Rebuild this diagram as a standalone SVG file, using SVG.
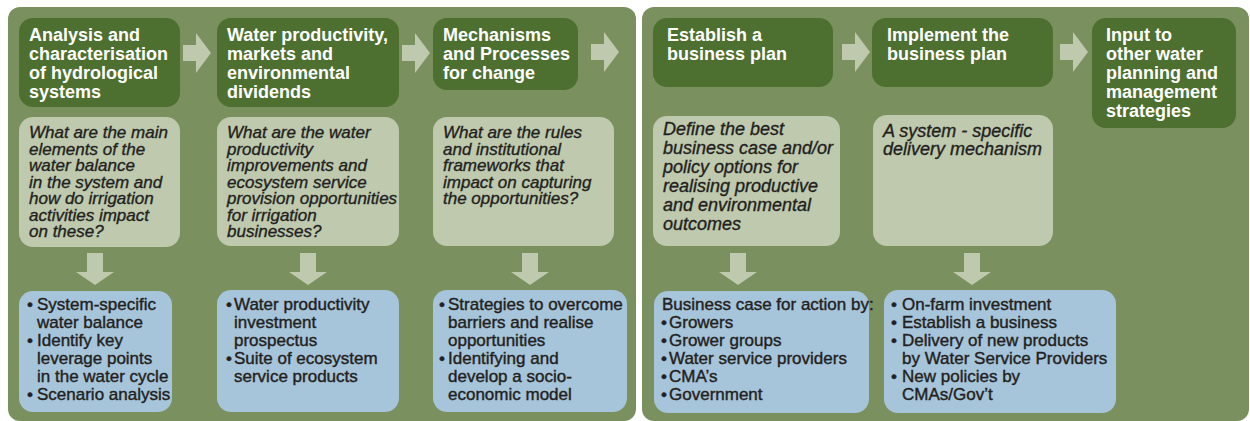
<svg xmlns="http://www.w3.org/2000/svg" xmlns:xlink="http://www.w3.org/1999/xlink" width="1250" height="421" viewBox="0 0 1250 421">
<style>
.panel{fill:#7a905e}
.hd{fill:#4d7030}
.qb{fill:#bec9ad}
.bl{fill:#a6c4da}
.arr{fill:#bec9ad}
text{font-family:"Liberation Sans",Arial,sans-serif}
.h{font-weight:bold;font-size:18px;fill:#ffffff}
.q{font-style:italic;font-size:17px;fill:#231f20;stroke:#231f20;stroke-width:0.35}
.q2{font-style:italic;font-size:18px;fill:#231f20;stroke:#231f20;stroke-width:0.35}
.b{font-size:17px;fill:#231f20;stroke:#231f20;stroke-width:0.4}
</style>
<defs>
<polygon id="ra" points="0,-8 13,-8 13,-20 28,0 13,20 13,8 0,8"/>
<polygon id="da" points="-8,0 8,0 8,19 19,19 0,32 -19,19 -8,19"/>
</defs>
<rect width="1250" height="421" fill="#ffffff"/>
<g id="panel-left"><rect class="panel" x="8" y="7" width="628" height="414" rx="12"/></g>
<g id="panel-right"><rect class="panel" x="642" y="7" width="607" height="414" rx="12"/></g>

<g id="connectors" class="arr">
<use xlink:href="#ra" href="#ra" x="183" y="53"/>
<use xlink:href="#ra" href="#ra" x="402" y="53"/>
<use xlink:href="#ra" href="#ra" x="591" y="52"/>
<use xlink:href="#ra" href="#ra" x="842" y="52"/>
<use xlink:href="#ra" href="#ra" x="1060" y="52"/>
<use xlink:href="#da" href="#da" x="95" y="253"/>
<use xlink:href="#da" href="#da" x="308" y="253"/>
<use xlink:href="#da" href="#da" x="530" y="253"/>
<use xlink:href="#da" href="#da" x="738" y="253"/>
<use xlink:href="#da" href="#da" x="972" y="253"/>
</g>

<g id="h1"><rect class="hd" x="19" y="18" width="161" height="89" rx="14"/>
<text class="h"><tspan x="29" y="41">Analysis and</tspan><tspan x="29" y="60">characterisation</tspan><tspan x="29" y="79">of hydrological</tspan><tspan x="29" y="98">systems</tspan></text></g>
<g id="h2"><rect class="hd" x="217" y="18" width="182" height="89" rx="14"/>
<text class="h"><tspan x="227" y="41">Water productivity,</tspan><tspan x="227" y="60">markets and</tspan><tspan x="227" y="79">environmental</tspan><tspan x="227" y="98">dividends</tspan></text></g>
<g id="h3"><rect class="hd" x="433" y="18" width="145" height="72" rx="14"/>
<text class="h"><tspan x="443" y="41">Mechanisms</tspan><tspan x="443" y="60">and Processes</tspan><tspan x="443" y="79">for change</tspan></text></g>
<g id="h4"><rect class="hd" x="653" y="18" width="180" height="69" rx="14"/>
<text class="h"><tspan x="667" y="41">Establish a</tspan><tspan x="667" y="60">business plan</tspan></text></g>
<g id="h5"><rect class="hd" x="872" y="18" width="181" height="69" rx="14"/>
<text class="h"><tspan x="887" y="41">Implement the</tspan><tspan x="887" y="60">business plan</tspan></text></g>
<g id="h6"><rect class="hd" x="1092" y="18" width="144" height="110" rx="14"/>
<text class="h"><tspan x="1106" y="41">Input to</tspan><tspan x="1106" y="60">other water</tspan><tspan x="1106" y="79">planning and</tspan><tspan x="1106" y="98">management</tspan><tspan x="1106" y="117">strategies</tspan></text></g>

<g id="q1"><rect class="qb" x="19" y="117" width="161" height="130" rx="14"/>
<text class="q"><tspan x="29" y="138">What are the main</tspan><tspan x="29" y="154.5">elements of the</tspan><tspan x="29" y="171">water balance</tspan><tspan x="29" y="187.5">in the system and</tspan><tspan x="29" y="204">how do irrigation</tspan><tspan x="29" y="220.5">activities impact</tspan><tspan x="29" y="237">on these?</tspan></text></g>
<g id="q2"><rect class="qb" x="217" y="117" width="182" height="129" rx="14"/>
<text class="q"><tspan x="227" y="138">What are the water</tspan><tspan x="227" y="154.5">productivity</tspan><tspan x="227" y="171">improvements and</tspan><tspan x="227" y="187.5">ecosystem service</tspan><tspan x="227" y="204">provision opportunities</tspan><tspan x="227" y="220.5">for irrigation</tspan><tspan x="227" y="237">businesses?</tspan></text></g>
<g id="q3"><rect class="qb" x="433" y="117" width="181" height="129" rx="14"/>
<text class="q"><tspan x="443" y="138">What are the rules</tspan><tspan x="443" y="154.5">and institutional</tspan><tspan x="443" y="171">frameworks that</tspan><tspan x="443" y="187.5">impact on capturing</tspan><tspan x="443" y="204">the opportunities?</tspan></text></g>
<g id="q4"><rect class="qb" x="653" y="116" width="187" height="130" rx="14"/>
<text class="q2"><tspan x="663" y="135">Define the best</tspan><tspan x="663" y="154">business case and/or</tspan><tspan x="663" y="173">policy options for</tspan><tspan x="663" y="192">realising productive</tspan><tspan x="663" y="211">and environmental</tspan><tspan x="663" y="230">outcomes</tspan></text></g>
<g id="q5"><rect class="qb" x="873" y="115" width="180" height="131" rx="14"/>
<text class="q2"><tspan x="883" y="137">A system - specific</tspan><tspan x="883" y="155">delivery mechanism</tspan></text></g>

<g id="o1"><rect class="bl" x="19" y="291" width="153" height="121" rx="14"/>
<text class="b"><tspan x="27" y="310">•</tspan><tspan x="37" y="310">System-specific</tspan><tspan x="37" y="328">water balance</tspan><tspan x="27" y="346">•</tspan><tspan x="37" y="346">Identify key</tspan><tspan x="37" y="364">leverage points</tspan><tspan x="37" y="382">in the water cycle</tspan><tspan x="27" y="400">•</tspan><tspan x="37" y="400">Scenario analysis</tspan></text></g>
<g id="o2"><rect class="bl" x="217" y="290" width="182" height="122" rx="14"/>
<text class="b"><tspan x="226" y="310">•</tspan><tspan x="234" y="310">Water productivity</tspan><tspan x="234" y="328">investment</tspan><tspan x="234" y="346">prospectus</tspan><tspan x="226" y="364">•</tspan><tspan x="234" y="364">Suite of ecosystem</tspan><tspan x="234" y="382">service products</tspan></text></g>
<g id="o3"><rect class="bl" x="433" y="290" width="194" height="122" rx="14"/>
<text class="b"><tspan x="439" y="310">•</tspan><tspan x="448" y="310">Strategies to overcome</tspan><tspan x="448" y="328">barriers and realise</tspan><tspan x="448" y="346">opportunities</tspan><tspan x="439" y="364">•</tspan><tspan x="448" y="364">Identifying and</tspan><tspan x="448" y="382">develop a socio-</tspan><tspan x="448" y="400">economic model</tspan></text></g>
<g id="o4"><rect class="bl" x="654" y="291" width="215" height="122" rx="14"/>
<text class="b"><tspan x="662" y="310">Business case for action by:</tspan><tspan x="661" y="328">•</tspan><tspan x="669" y="328">Growers</tspan><tspan x="661" y="346">•</tspan><tspan x="669" y="346">Grower groups</tspan><tspan x="661" y="364">•</tspan><tspan x="669" y="364">Water service providers</tspan><tspan x="661" y="382">•</tspan><tspan x="669" y="382">CMA’s</tspan><tspan x="661" y="400">•</tspan><tspan x="669" y="400">Government</tspan></text></g>
<g id="o5"><rect class="bl" x="884" y="290" width="232" height="123" rx="14"/>
<text class="b"><tspan x="891" y="310">•</tspan><tspan x="902" y="310">On-farm investment</tspan><tspan x="891" y="328">•</tspan><tspan x="902" y="328">Establish a business</tspan><tspan x="891" y="346">•</tspan><tspan x="902" y="346">Delivery of new products</tspan><tspan x="902" y="364">by Water Service Providers</tspan><tspan x="891" y="382">•</tspan><tspan x="902" y="382">New policies by</tspan><tspan x="902" y="400">CMAs/Gov’t</tspan></text></g>
</svg>
